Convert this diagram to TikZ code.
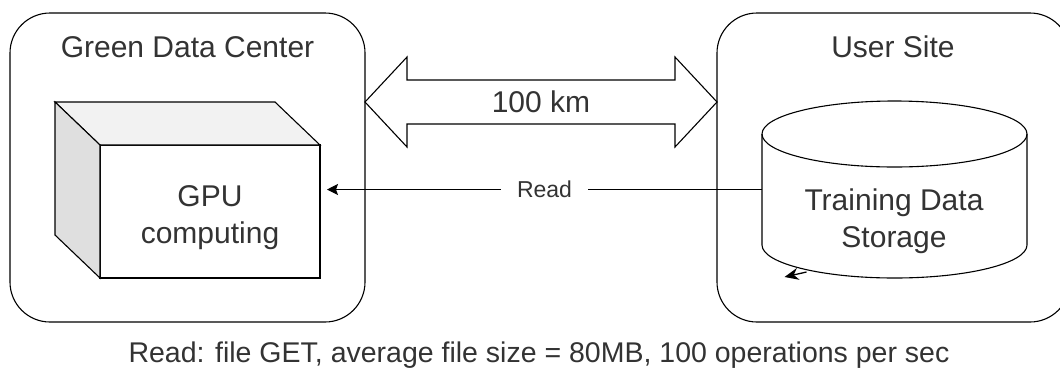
\documentclass[tikz,border=0pt]{standalone}
\usepackage{fontspec}
\setmainfont{Liberation Sans}
\usetikzlibrary{arrows.meta,positioning,calc}
\definecolor{inkgray}{HTML}{333333}
\tikzstyle{site}=[%
	draw,
	rounded corners=40pt,
	line width=1.1pt,
	outer sep=0pt,
	minimum width=355,
	minimum height=309,
	]
\tikzstyle{sitename}=[font=\fontsize{30}{37.5}\selectfont, text=inkgray, align=center]
\tikzstyle{box}=[%
	draw,
	fill=white,
	line width=1.1pt,
	outer sep=0pt,
	]
\tikzstyle{link}=[draw, line width=1.1pt, line join=miter]
\tikzstyle{readedge}=[line width=1.1pt, -{Stealth[length=11pt,width=11pt,inset=2pt]}]

\begin{document}
\begin{tikzpicture}[x=1pt,y=-1pt]%
          \useasboundingbox (0,0) rectangle (1060,373);
          % containers
          \node[site] (gdc) at (187.5,167.5) {};
          \node[site, minimum width=353] (user) at (893.5,167.5) {};
          \node[sitename] (gdcname) at (187.5,47) {Green Data Center};
          \node[sitename] (username) at (893,47) {User Site};

          % cube
          \node[box, minimum width=220, minimum height=133] (gpu) at (210,211.5) {};
          \draw[link, fill=gray!10] (gpu.north west) -- ++(-45,-43) -- ++(220,0) -- (gpu.north east) -- cycle;
          \draw[link, fill=gray!25] (gpu.north west) -- ++(-45,-43) -- ++(0,133) -- (gpu.south west) -- cycle;
          \node[sitename] (gpuname) at ([yshift=-6]gpu.center) {GPU\\computing};

          % cylinder
          \node[minimum width=265, minimum height=111, inner sep=0pt, outer sep=0pt] (store) at (894.5,189.5) {};
          \draw[link] (store.north west) -- (store.south west) arc[start angle=180, end angle=0, x radius=132.5, y radius=33] -- (store.north east);
          \draw[link] (store.north) ellipse [x radius=132.5, y radius=33];
          \node[sitename] (storename) at (894,221) {Training Data\\Storage};
          \coordinate (loopa) at ([xshift=-88,yshift=-27]store.south);
          \coordinate (loopb) at ([xshift=-110,yshift=-32]store.south);
          \draw[line width=1.3pt, -{Stealth[length=14pt,width=12pt]}] (loopa) -- (loopb);

          % 100 km
          \node[sitename] (km) at (541,102) {100 km};
          \draw[link] (gdc.east |- km) -- ++(42,-45) -- ++(0,23) -- ++(268,0) -- ++(0,-23) -- (user.west |- km)
            -- ++(-42,45) -- ++(0,-23) -- ++(-268,0) -- ++(0,23) -- cycle;

          \draw[readedge] (store.west) -- ([xshift=7]gpu.east |- store.west) node[midway, fill=white, text=inkgray, font=\fontsize{23}{26}\selectfont, inner xsep=16pt] (read) {Read};

          \node[text=inkgray, font=\fontsize{28.5}{32}\selectfont] (note) at (539,355) {Read: file GET, average file size = 80MB, 100 operations per sec};
        \end{tikzpicture}
\end{document}
